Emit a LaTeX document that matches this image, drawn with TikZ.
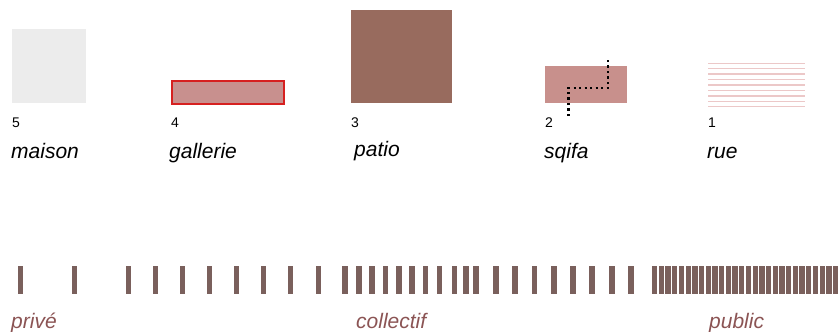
\documentclass[tikz,border=0pt]{standalone}
\usepackage{fontspec}
\setmainfont{Liberation Sans}
\definecolor{maisoncol}{RGB}{236,236,236}
\definecolor{gallfill}{RGB}{200,144,142}
\definecolor{gallborder}{RGB}{214,32,32}
\definecolor{patiocol}{RGB}{152,107,94}
\definecolor{sqifacol}{RGB}{200,144,140}
\definecolor{ruecol}{RGB}{236,200,200}
\definecolor{barcol}{RGB}{122,96,92}
\definecolor{lowtext}{RGB}{139,84,84}
\begin{document}
\begin{tikzpicture}[x=1pt,y=-1pt,
  numlab/.style={anchor=base west,inner sep=0pt,font=\fontsize{14}{14}\selectfont},
  namelab/.style={anchor=base west,inner sep=0pt,font=\fontsize{21}{21}\selectfont\itshape},
  lowlab/.style={namelab,text=lowtext},
  bar/.style={fill=barcol,draw=none,minimum width=5.4pt,minimum height=28pt,inner sep=0pt,anchor=center},
  densebar/.style={bar,minimum width=5.3pt},
  dotline/.style={line width=2.4pt,dash pattern=on 2.2pt off 3.3pt}]
\useasboundingbox (0,0) rectangle (839,332);
% top row shapes
\fill[maisoncol] (12,29) rectangle (86,103);
\node[inner sep=0pt,minimum width=112pt,minimum height=23pt,fill=gallfill,draw=gallborder,line width=1.2pt,anchor=north west] (gall) at (171.3,80.3) {};
\fill[patiocol] (351,10) rectangle (452,103);
\fill[sqifacol] (545,66) rectangle (627,103);
\foreach \k in {0,...,8}{
  \draw[ruecol,line width=1.4pt] (708,63.3+\k*5.42) -- (805,63.3+\k*5.42);
}
% sqifa path
\coordinate (s1) at (568.5,116);
\coordinate (s2) at (568.5,88);
\coordinate (s3) at (608,88);
\coordinate (s4) at (608,57);
\draw[dotline] (s1) -- (s2) -- (s3) -- (s4);
% numbers
\node[numlab] (n5) at (12,127) {5};
\node[numlab] (n4) at (171,127.5) {4};
\node[numlab] (n3) at (351,127) {3};
\node[numlab] (n2) at (545,127) {2};
\node[numlab] (n1) at (708,127) {1};
% names
\node[namelab] (lmaison) at (11,158) {maison};
\node[namelab] (lgall) at (169,158) {gallerie};
\node[namelab] (lpatio) at (354,156) {patio};
\node[namelab] (lsqifa) at (544,158) {sqifa};
\node[namelab] (lrue) at (707,158) {rue};
% bars
\foreach \xx [count=\i] in {20.5,74.5,128.5,155.5,182.5,209.5,236.5,263.5,290.5,318.5,345,359,372,385.5,399,412,425.5,439.5,454.5,466,476,496,515,534.5,554,573,592,612,631}{
  \node[bar] (b\i) at (\xx,280) {};
}
\foreach \k in {0,...,27}{
  \node[densebar] (d\k) at (654.65+\k*6.7,280) {};
}
% bottom labels
\node[lowlab] (lprive) at (11,328) {privé};
\node[lowlab] (lcoll) at (356,328) {collectif};
\node[lowlab] (lpub) at (709,328) {public};
\end{tikzpicture}
\end{document}
